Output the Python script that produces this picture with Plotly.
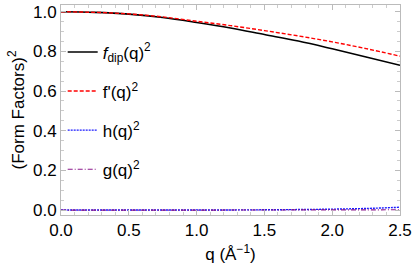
import plotly.graph_objects as go

q = [0.0, 0.25, 0.5, 0.75, 1.0, 1.25, 1.5, 1.75, 2.0, 2.25, 2.5]
f_dip_sq = [1.000, 0.997, 0.988, 0.971, 0.946, 0.918, 0.885, 0.852, 0.813, 0.772, 0.730]
f_prime_sq = [1.000, 0.997, 0.989, 0.974, 0.952, 0.930, 0.905, 0.878, 0.848, 0.814, 0.776]
h_sq = [0.0, 0.0, 0.0, 0.0, 0.0002, 0.0005, 0.0012, 0.0025, 0.0045, 0.008, 0.014]
g_sq = [0.0, 0.0, 0.0, 0.0, 0.0, 0.0001, 0.0002, 0.0004, 0.0007, 0.0011, 0.0016]

names = ["<i>f</i><sub>dip</sub>(q)<sup>2</sup>", "f'(q)<sup>2</sup>", "h(q)<sup>2</sup>", "g(q)<sup>2</sup>"]
series = [f_dip_sq, f_prime_sq, h_sq, g_sq]
styles = [("black", "solid", 1.6), ("#ff0000", "4px,2px", 1.4),
          ("#1a1aff", "2px,1px", 1.4), ("#8b1a8b", "5px,2px,1px,2px", 1.2)]

fig = go.Figure()
for i, (nm, ys, (c, d, w)) in enumerate(zip(names, series, styles)):
    fig.add_trace(go.Scatter(x=q, y=ys, mode="lines", name=nm, legendgroup=str(i),
                             line=dict(color=c, dash=d, width=w, shape="spline")))

font = dict(family="Liberation Sans, Arial, sans-serif", size=17, color="black")
axcommon = dict(showline=True, linecolor="#bbbbbb", linewidth=1, mirror="ticks",
                ticks="inside", tickcolor="#bbbbbb", ticklen=5, showgrid=False, zeroline=False,
                tickfont=font, automargin=False)
fig.update_layout(
    width=415, height=273, margin=dict(l=61, r=15, t=5, b=58),
    paper_bgcolor="white", plot_bgcolor="white", font=font,
    xaxis=dict(range=[0, 2.5], dtick=0.5, tickformat=".1f",
               minor=dict(dtick=0.1, ticks="inside", ticklen=3, tickcolor="#cccccc"),
               title=dict(text="q (Å<sup>−1</sup>)", font=font, standoff=8), **axcommon),
    yaxis=dict(range=[-0.025, 1.034], dtick=0.2, tickformat=".1f",
               minor=dict(dtick=0.05, ticks="inside", ticklen=3, tickcolor="#cccccc"),
               title=dict(text="(Form Factors)<sup>2</sup>", font=font, standoff=4), **axcommon),
    legend=dict(x=0.005, y=0.86, xanchor="left", yanchor="top", bgcolor="rgba(0,0,0,0)",
                font=font, traceorder="grouped", tracegroupgap=14, itemwidth=30),
    showlegend=True,
)
fig.write_html("out.html", config={"displayModeBar": False},
               post_script="document.body.style.margin='0';")
